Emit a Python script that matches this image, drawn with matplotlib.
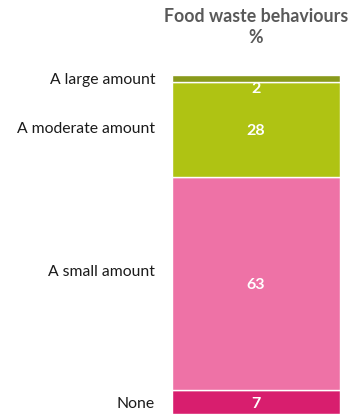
import matplotlib
matplotlib.use("Agg")
import matplotlib.pyplot as plt
import numpy as np

categories = ["None", "A small amount", "A moderate amount", "A large amount"]
values = [7, 63, 28, 2]
colors = ["#d81e6e", "#ee72a6", "#afc313", "#899a1b"]
title = "Food waste behaviours\n%"

plt.rcParams['font.family'] = ['Lato', 'DejaVu Sans']

fig = plt.figure(figsize=(3.53, 4.17), dpi=100)
ax = fig.add_axes([172/353, 1-414/417, (340-172)/353, (414-75)/417])

bottoms = np.concatenate([[0], np.cumsum(values)[:-1]])
for cat, v, b, c in zip(categories, values, bottoms, colors):
    ax.bar(0, v, bottom=b, width=1.0, color=c, edgecolor="white", linewidth=1.0)

ax.set_xlim(-0.5, 0.5)
ax.set_ylim(0, sum(values))
ax.axis("off")

# data labels
for cat, v, b in zip(categories, values, bottoms):
    if v < 5:
        ax.annotate(str(v), (0, b), xytext=(0, -0.5), textcoords="offset points",
                    ha="center", va="top", color="white", fontsize=11.5, fontweight="bold")
    else:
        ax.annotate(str(v), (0, b + v/2), xytext=(0, -2), textcoords="offset pixels",
                    ha="center", va="center", color="white",
                    fontsize=11.5, fontweight="bold")

# category labels
offsets = {"None": -2, "A small amount": 11, "A moderate amount": 0, "A large amount": -2}
for cat, v, b in zip(categories, values, bottoms):
    ax.annotate(cat, (0, b + v/2), xycoords=("axes fraction", "data"),
                xytext=(-17, offsets[cat]), textcoords="offset pixels",
                ha="right", va="center", color="#1a1a1a", fontsize=11.3)

fig.text(256/353, 1-27/417, title, ha="center", va="center", color="#595959",
         fontsize=12.8, fontweight="bold", linespacing=1.35)

fig.savefig("out.png", dpi=100, facecolor="white")
